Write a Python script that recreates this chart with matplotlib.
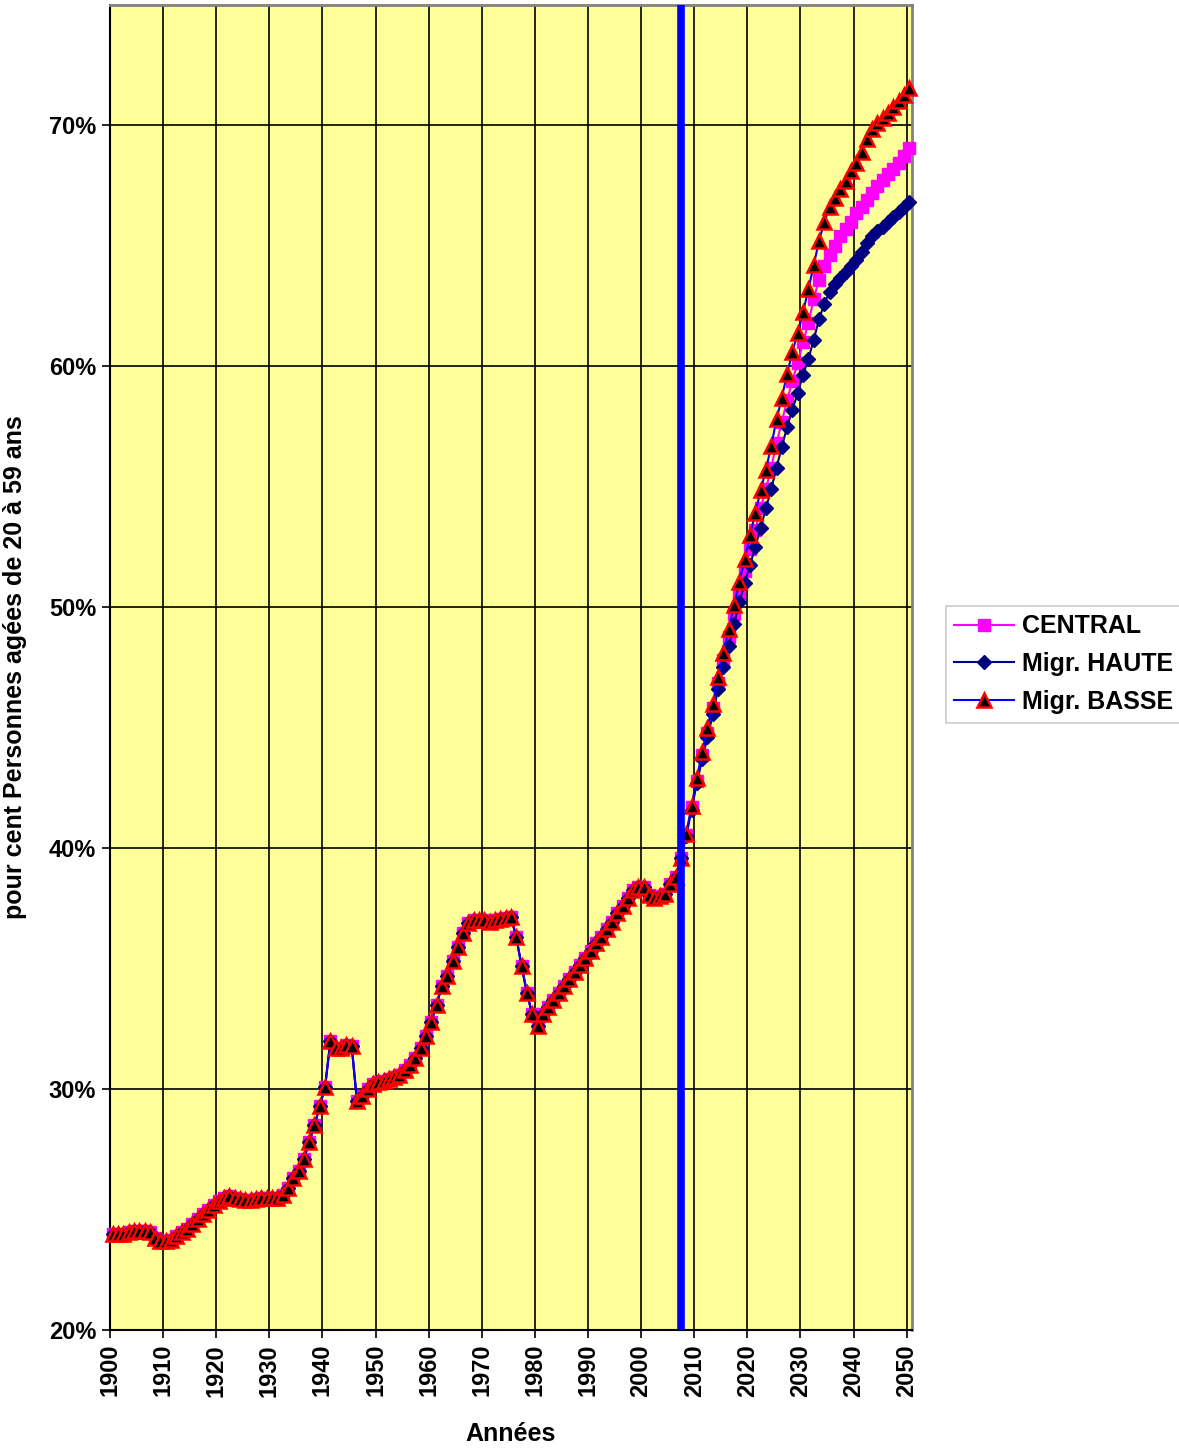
import matplotlib
matplotlib.use("Agg")
import matplotlib.pyplot as plt
import numpy as np
from matplotlib.ticker import FuncFormatter

plt.rcParams["font.family"] = ["Liberation Sans", "DejaVu Sans"]
plt.rcParams["font.weight"] = "bold"

# ── data ────────────────────────────────────────────────────────
years = list(range(1900, 2051))

# observed 1900-2007, common to the three scenarios (%)
history = [
    24.0, 24.0, 24.0, 24.05, 24.1, 24.1, 24.1, 24.05, 23.8, 23.7,      # 1900-09
    23.7, 23.75, 23.9, 24.05, 24.2, 24.4, 24.6, 24.8, 25.0, 25.2,      # 1910-19
    25.35, 25.5, 25.55, 25.5, 25.45, 25.4, 25.4, 25.45, 25.5, 25.5,    # 1920-29
    25.5, 25.5, 25.6, 25.9, 26.3, 26.6, 27.1, 27.8, 28.5, 29.3,        # 1930-39
    30.1, 32.0, 31.7, 31.7, 31.85, 31.8, 29.5, 29.7, 30.0, 30.2,       # 1940-49
    30.3, 30.35, 30.4, 30.5, 30.6, 30.8, 31.0, 31.3, 31.7, 32.2,       # 1950-59
    32.8, 33.5, 34.3, 34.7, 35.3, 35.9, 36.5, 36.9, 37.0, 37.0,        # 1960-69
    37.0, 36.95, 37.0, 37.05, 37.1, 37.15, 36.3, 35.1, 34.0, 33.1,     # 1970-79
    32.6, 33.1, 33.4, 33.7, 34.0, 34.3, 34.55, 34.85, 35.15, 35.45,    # 1980-89
    35.75, 36.05, 36.3, 36.65, 36.95, 37.3, 37.6, 37.95, 38.25, 38.4,  # 1990-99
    38.4, 38.05, 37.95, 38.0, 38.1, 38.5, 38.8, 39.6,                  # 2000-07
]

# projections 2008-2050 (%)
central_proj = [
    40.55, 41.7, 42.8, 43.85, 44.8, 45.8, 46.85, 47.8, 48.75, 49.7,
    50.6, 51.5, 52.4, 53.2, 54.1, 54.9, 55.8, 56.8, 57.7, 58.6,
    59.4, 60.15, 61.0, 61.8, 62.8, 63.6, 64.15, 64.6, 65.0, 65.4,
    65.7, 66.0, 66.35, 66.6, 66.9, 67.2, 67.5, 67.75, 68.0, 68.2,
    68.45, 68.75, 69.05,
]
haute_proj = [
    40.5, 41.6, 42.7, 43.7, 44.6, 45.55, 46.6, 47.5, 48.4, 49.3,
    50.2, 51.0, 51.75, 52.5, 53.3, 54.1, 54.9, 55.8, 56.65, 57.5,
    58.2, 58.9, 59.65, 60.3, 61.1, 61.95, 62.6, 63.1, 63.4, 63.65,
    63.9, 64.15, 64.4, 64.75, 65.1, 65.4, 65.6, 65.8, 66.0, 66.2,
    66.4, 66.6, 66.8,
]
basse_proj = [
    40.6, 41.75, 42.9, 44.0, 45.0, 46.0, 47.1, 48.1, 49.1, 50.1,
    51.05, 52.0, 53.0, 53.9, 54.85, 55.7, 56.7, 57.8, 58.7, 59.7,
    60.6, 61.4, 62.25, 63.2, 64.2, 65.2, 66.0, 66.6, 67.0, 67.35,
    67.7, 68.1, 68.45, 68.9, 69.45, 69.85, 70.1, 70.3, 70.5, 70.75,
    71.0, 71.25, 71.55,
]

series = {
    "CENTRAL": history + central_proj,
    "Migr. HAUTE": history + haute_proj,
    "Migr. BASSE": history + basse_proj,
}
current_year = 2007

# ── figure ──────────────────────────────────────────────────────
fig = plt.figure(figsize=(11.79, 14.49), dpi=100)
ax = fig.add_axes([0.0933, 0.0821, 0.6802, 0.9145])
ax.set_facecolor("#FFFF99")

# category axis (Excel style): one slot per year, marks in slot centres
x = np.arange(len(years)) + 0.5

ax.plot(x, series["CENTRAL"], color="#FF00FF", lw=1.5, marker="s",
        ms=9, mfc="#FF00FF", mec="#FF00FF", label="CENTRAL",
        clip_on=False, zorder=3)
ax.plot(x, series["Migr. HAUTE"], color="#000080", lw=1.5, marker="D",
        ms=7.5, mfc="#000080", mec="#000080", label="Migr. HAUTE",
        clip_on=False, zorder=4)
ax.plot(x, series["Migr. BASSE"], color="#0000FF", lw=1.5, marker="^",
        ms=10, mfc="black", mec="#FF0000", mew=1.8, label="Migr. BASSE",
        clip_on=False, zorder=5)

# current-year marker
ax.axvline(years.index(current_year) + 0.5, color="#0000FF", lw=5.5, zorder=6)

ax.set_xlim(0, len(years))
ax.set_ylim(20, 75)
ax.set_xticks(np.arange(0, len(years), 10))
ax.set_xticklabels([str(y) for y in years[::10]], rotation=90,
                   fontsize=17, fontweight="bold")
ax.set_yticks(np.arange(20, 71, 10))
ax.yaxis.set_major_formatter(FuncFormatter(lambda v, _: f"{v:.0f}%"))
for lbl in ax.get_yticklabels():
    lbl.set_fontsize(17)
    lbl.set_fontweight("bold")
ax.tick_params(direction="out", length=6, width=1.2, color="black", pad=4)

ax.grid(True, color="black", lw=1.2, zorder=1)
ax.set_axisbelow(True)
for side in ("left", "bottom"):
    ax.spines[side].set_color("black")
    ax.spines[side].set_linewidth(1.5)
for side in ("right", "top"):
    ax.spines[side].set_color("#808080")
    ax.spines[side].set_linewidth(2)

ax.set_xlabel("Années", fontsize=18, fontweight="bold", labelpad=18)
ax.set_ylabel("pour cent Personnes agées de 20 à 59 ans", fontsize=18,
              fontweight="bold", labelpad=16)

leg = ax.legend(loc="upper left", bbox_to_anchor=(0.802, 0.582),
                bbox_transform=fig.transFigure, borderaxespad=0,
                frameon=True, fancybox=False, edgecolor="#BFBFBF",
                prop={"size": 18, "weight": "bold"}, handlelength=2.4,
                labelspacing=0.55, borderpad=0.35, handletextpad=0.3)
leg.get_frame().set_linewidth(1.2)

fig.savefig("out.png", dpi=100)
